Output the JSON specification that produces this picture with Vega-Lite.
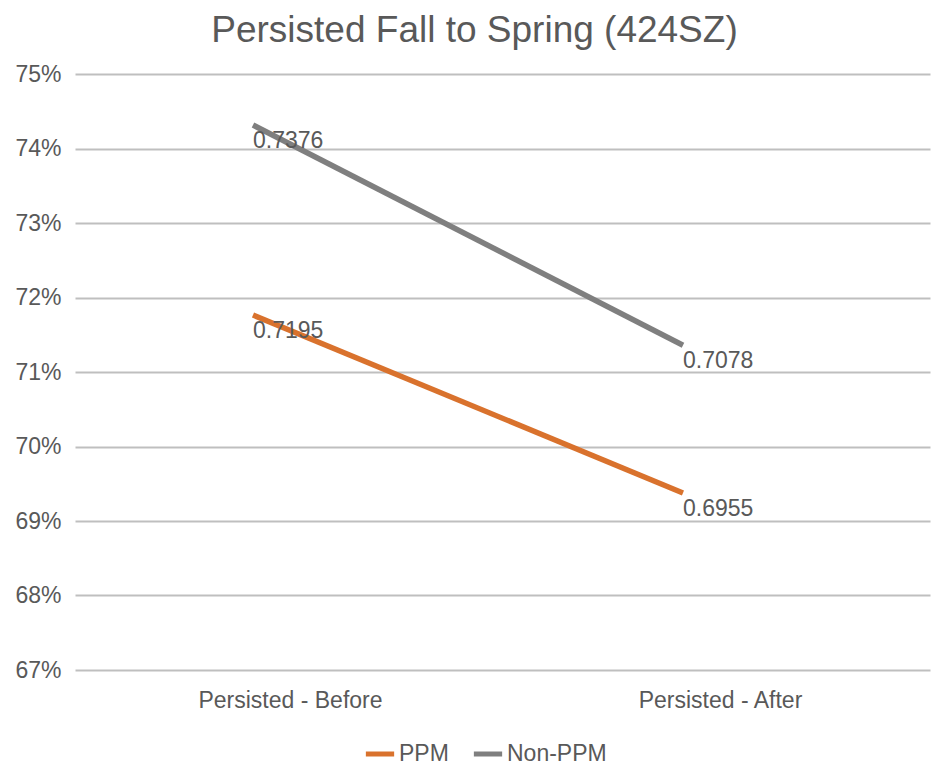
{
  "$schema": "https://vega.github.io/schema/vega-lite/v6.json",
  "width": 855,
  "height": 596,
  "autosize": {"type": "none"},
  "padding": {"left": 75, "top": 74, "right": 2, "bottom": 95},
  "background": "white",
  "title": {
    "text": "Persisted Fall to Spring (424SZ)",
    "font": "Liberation Sans",
    "fontSize": 37,
    "fontWeight": "normal",
    "color": "#595959",
    "anchor": "middle",
    "offset": 13,
    "dx": -28
  },
  "config": {
    "view": {"stroke": null},
    "font": "Liberation Sans"
  },
  "data": {
    "values": [
      {"series": "PPM", "stage": "Persisted - Before", "value": 0.71765, "label": "0.7195"},
      {"series": "PPM", "stage": "Persisted - After", "value": 0.69376, "label": "0.6955"},
      {"series": "Non-PPM", "stage": "Persisted - Before", "value": 0.74315, "label": "0.7376"},
      {"series": "Non-PPM", "stage": "Persisted - After", "value": 0.7136, "label": "0.7078"}
    ]
  },
  "encoding": {
    "x": {
      "field": "stage",
      "type": "nominal",
      "sort": ["Persisted - Before", "Persisted - After"],
      "scale": {"type": "point", "padding": 0.4942, "align": 0.4188},
      "axis": {
        "title": null,
        "labelAngle": 0,
        "domain": false,
        "ticks": false,
        "grid": false,
        "labelPadding": 19,
        "labelOffset": 37,
        "labelLimit": 0,
        "labelFontSize": 23,
        "labelColor": "#595959",
        "labelFont": "Liberation Sans"
      }
    },
    "y": {
      "field": "value",
      "type": "quantitative",
      "scale": {"domain": [0.67, 0.75], "zero": false, "nice": false},
      "axis": {
        "title": null,
        "values": [0.67, 0.68, 0.69, 0.70, 0.71, 0.72, 0.73, 0.74, 0.75],
        "format": ".0%",
        "domain": false,
        "ticks": false,
        "grid": true,
        "gridColor": "#BFBFBF",
        "gridWidth": 2,
        "labelPadding": 14,
        "labelFontSize": 23,
        "labelColor": "#595959",
        "labelFont": "Liberation Sans"
      }
    }
  },
  "layer": [
    {
      "mark": {"type": "line", "strokeWidth": 5.5},
      "encoding": {
        "color": {
          "field": "series",
          "type": "nominal",
          "scale": {"domain": ["PPM", "Non-PPM"], "range": ["#D9722D", "#7F7F7F"]},
          "legend": {
            "title": null,
            "orient": "none",
            "legendX": 288,
            "legendY": 663,
            "direction": "horizontal",
            "symbolType": "stroke",
            "symbolStrokeWidth": 5,
            "symbolSize": 800,
            "labelFontSize": 23,
            "labelColor": "#595959",
            "labelFont": "Liberation Sans",
            "labelOffset": 2,
            "columnPadding": 14
          }
        }
      }
    },
    {
      "mark": {
        "type": "text",
        "align": "left",
        "baseline": "alphabetic",
        "dy": 23,
        "fontSize": 23,
        "color": "#595959",
        "font": "Liberation Sans"
      },
      "encoding": {
        "text": {"field": "label"}
      }
    }
  ]
}
